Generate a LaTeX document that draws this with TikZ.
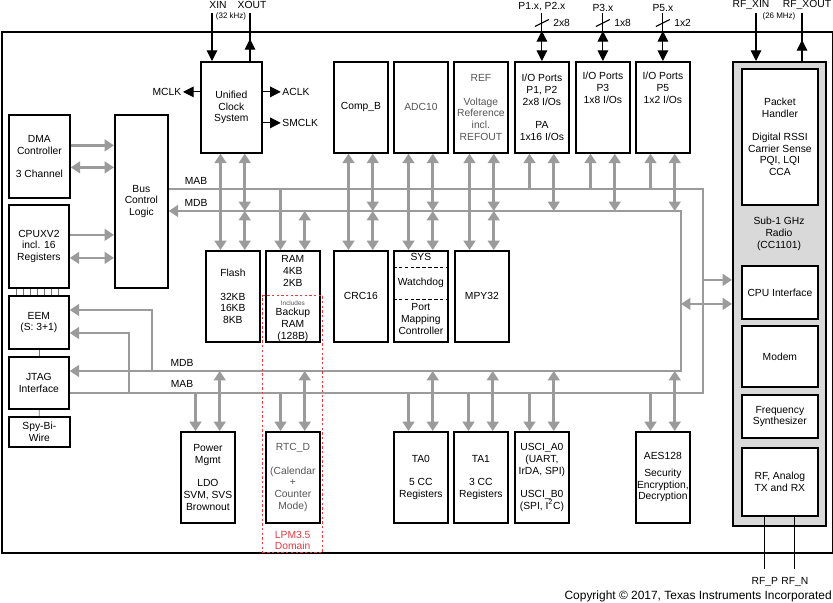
\documentclass[tikz,border=0pt]{standalone}
\usepackage{fontspec}
\setmainfont{Liberation Sans}
\usepackage{tikz}
\usetikzlibrary{arrows.meta}
\definecolor{busgray}{RGB}{155,155,155}
\definecolor{radiogray}{RGB}{217,217,217}
\definecolor{lpmred}{RGB}{232,56,64}
\definecolor{dimtext}{RGB}{85,85,85}
\tikzset{
    % Chip outline
    chipframe/.style={
        rectangle, draw=black, line width=1.5pt, fill=white,
        minimum width=249.3mm, minimum height=156.3mm,
        anchor=north west, inner sep=0pt
    },
    % Peripheral module box
    module/.style={
        rectangle, draw=black, line width=1.5pt, fill=white,
        minimum width=16.2mm, minimum height=27.3mm,
        anchor=north west, align=center, inner sep=0.5pt,
        font=\fontsize{8.8}{10}\selectfont
    },
    graytext/.style={text=dimtext},
    % Radio core
    radiobox/.style={
        rectangle, draw=black, line width=2pt, fill=radiogray,
        minimum width=27.9mm, minimum height=139.2mm,
        anchor=north west, inner sep=0pt
    },
    radioblk/.style={module, minimum width=22.8mm},
    % Free text
    sigtext/.style={align=center, inner sep=1pt, font=\fontsize{8.8}{10}\selectfont},
    freqtext/.style={inner sep=0.5pt, font=\fontsize{6.8}{8}\selectfont},
    tinytext/.style={inner sep=0.5pt, text=dimtext, font=\fontsize{5.5}{6}\selectfont},
    % Address and data buses
    bus/.style={draw=busgray, line width=2.3pt},
    busarrow/.style={bus, -{Triangle[width=10pt,length=8pt]}},
    busdbl/.style={bus, {Triangle[width=10pt,length=8pt]}-{Triangle[width=10pt,length=8pt]}},
    % Pin signals
    sigline/.style={draw=black, line width=0.9pt},
    sigarrow/.style={sigline, -{Triangle[width=9pt,length=9pt]}},
    portdbl/.style={sigline, {Triangle[width=9pt,length=9pt]}-{Triangle[width=9pt,length=9pt]}},
    pinline/.style={draw=black!55, line width=0.6pt},
    % LPM3.5 domain
    lpmdomain/.style={
        rectangle, draw=lpmred, line width=1.2pt, dash pattern=on 2pt off 2pt,
        minimum width=18mm, minimum height=77.1mm, anchor=north west, inner sep=0pt
    },
    lpmtext/.style={align=center, inner sep=1pt, text=lpmred, font=\fontsize{8.8}{10}\selectfont}
}

\begin{document}
\begin{tikzpicture}[x=0.3mm, y=-0.3mm]
\useasboundingbox (0,0) rectangle (833,603);

\node[chipframe] (chip) at (1,31) {};

% CPU side
\node[module, minimum width=18.3mm, minimum height=24.9mm] (dma) at (8,114) {DMA\\Controller\\[10pt]3 Channel};
\node[module, minimum width=18mm, minimum height=24.9mm] (cpu) at (8,204) {CPUXV2\\incl. 16\\Registers};
\node[module, minimum width=18mm, minimum height=15.9mm] (eem) at (8,295) {EEM\\(S: 3+1)};
\node[module, minimum width=18mm, minimum height=15.6mm] (jtag) at (8,356) {JTAG\\Interface};
\node[module, minimum width=18.3mm, minimum height=9mm] (sbw) at (8,416) {Spy-Bi-\\Wire};
\node[module, minimum width=15.9mm, minimum height=51.9mm] (busctl) at (114,114) {Bus\\Control\\Logic};

% top row
\node[module, minimum width=18.3mm] (ucs) at (200,61) {Unified\\Clock\\System};
\node[module] (comp) at (333,61) {Comp\_B};
\node[module, graytext] (adc) at (393,61) {ADC10};
\node[module, graytext] (ref) at (453,61) {REF\\[10pt]Voltage\\Reference\\incl.\\REFOUT};
\node[module] (p1) at (514,61) {I/O Ports\\P1, P2\\2x8 I/Os\\[10pt]PA\\1x16 I/Os};
\node[module] (p3) at (575,61) {};
\node[module] (p5) at (635,61) {};
\node[sigtext] (p3-text) at ([yshift=-8.1mm]p3.north) {I/O Ports\\P3\\1x8 I/Os};
\node[sigtext] (p5-text) at ([yshift=-8.1mm]p5.north) {I/O Ports\\P5\\1x2 I/Os};

% middle row
\node[module] (flash) at (205,250) {Flash\\[10pt]32KB\\16KB\\8KB};
\node[module] (ram) at (265,250) {};
\node[sigtext] (ram-size) at ([yshift=-6.3mm]ram.north) {RAM\\4KB\\2KB};
\node[tinytext] (ram-inc) at ([yshift=-15.9mm]ram.north) {Includes};
\node[sigtext] (ram-bak) at ([yshift=-22.5mm]ram.north) {Backup\\RAM\\(128B)};
\node[module] (crc) at (333,250) {CRC16};
\node[module] (sys) at (393,250) {};
\draw[densely dashed, thin] ([yshift=-5.1mm]sys.north west) -- ([yshift=-5.1mm]sys.north east);
\draw[densely dashed, thin] ([yshift=-14.7mm]sys.north west) -- ([yshift=-14.7mm]sys.north east);
\node[sigtext] (sys-t1) at ([yshift=-2.1mm]sys.north) {SYS};
\node[sigtext] (sys-t2) at ([yshift=-9.9mm]sys.north) {Watchdog};
\node[sigtext] (sys-t3) at ([yshift=-20.7mm]sys.north) {Port\\Mapping\\Controller};
\node[module] (mpy) at (454,250) {MPY32};

% bottom row
\node[module] (pwr) at (180,431) {Power\\Mgmt\\[10pt]LDO\\SVM, SVS\\Brownout};
\node[module, graytext] (rtc) at (265,431) {RTC\_D\\[10pt](Calendar\\+\\Counter\\Mode)};
\node[module] (ta0) at (393,431) {TA0\\[10pt]5 CC\\Registers};
\node[module] (ta1) at (453,431) {TA1\\[10pt]3 CC\\Registers};
\node[module] (usci) at (514,431) {USCI\_A0\\(UART,\\IrDA, SPI)\\[10pt]USCI\_B0\\(SPI, I\textsuperscript{2}C)};
\node[module] (aes) at (635,431) {AES128\\[4pt]Security\\Encryption,\\Decryption};

% radio core
\node[radiobox] (radio) at (732,61) {};
\node[radioblk, minimum height=40.8mm] (pkt) at (741,68) {Packet\\Handler\\[10pt]Digital RSSI\\Carrier Sense\\PQI, LQI\\CCA};
\node[sigtext] (radio-lbl) at (779,234) {Sub-1 GHz\\Radio\\(CC1101)};
\node[radioblk, minimum height=15.9mm] (cpuif) at (741,265) {CPU Interface};
\node[radioblk, minimum height=18.3mm] (modem) at (741,325) {Modem};
\node[radioblk, minimum height=12.9mm] (fsyn) at (741,394) {Frequency\\Synthesizer};
\node[radioblk, minimum height=20.4mm] (rfa) at (741,447) {RF, Analog\\TX and RX};

% buses
\coordinate (mab-ne) at (703,189);
\coordinate (mab-se) at (703,393);
\coordinate (mdb-ne) at (681,211);
\coordinate (mdb-se) at (681,371);
\draw[bus] (busctl.east |- mab-ne) -- (mab-ne) -- (mab-se) -- (jtag.east |- mab-se);
\draw[busdbl] (busctl.east |- mdb-ne) -- (mdb-ne) -- (mdb-se) -- (jtag.east |- mdb-se);
\node[sigtext] (mab-u) at (196,181) {MAB};
\node[sigtext] (mdb-u) at (196,203) {MDB};
\node[sigtext] (mdb-l) at (182,363) {MDB};
\node[sigtext] (mab-l) at (182,384) {MAB};

\draw[busarrow] ([yshift=3.3mm]dma.east) -- ([yshift=3.3mm]dma.east -| busctl.west);
\draw[busdbl] ([yshift=-3.3mm]dma.east) -- ([yshift=-3.3mm]dma.east -| busctl.west);
\draw[busarrow] ([yshift=3.45mm]cpu.east) -- ([yshift=3.45mm]cpu.east -| busctl.west);
\draw[busdbl] ([yshift=-3.45mm]cpu.east) -- ([yshift=-3.45mm]cpu.east -| busctl.west);

\coordinate (eem-d) at (152,310);
\coordinate (eem-a) at (129,333);
\draw[busarrow] (eem-d |- mdb-se) |- (eem.east |- eem-d);
\draw[busarrow] (eem-a |- mab-se) |- (eem.east |- eem-a);

% modules above and below the upper bus
\foreach \topmod/\midmod in {ucs/flash, comp/crc, adc/sys, ref/mpy} {
    \draw[busdbl] ([xshift=4.65mm]\midmod.north west |- \topmod.south) -- ([xshift=4.65mm]\midmod.north west);
    \draw[busdbl] ([xshift=-4.8mm]\midmod.north east |- \topmod.south) -- ([xshift=-4.8mm]\midmod.north east |- mdb-ne);
    \draw[busdbl] ([xshift=-4.8mm]\midmod.north east |- mdb-ne) -- ([xshift=-4.8mm]\midmod.north east);
}
\foreach \port in {p1,p3,p5} {
    \draw[busarrow] ([xshift=4.65mm]\port.south west |- mab-ne) -- ([xshift=4.65mm]\port.south west);
    \draw[busdbl] ([xshift=-4.8mm]\port.south east |- mdb-ne) -- ([xshift=-4.8mm]\port.south east);
}
\draw[busarrow] ([xshift=4.65mm]ram.north west |- mab-ne) -- ([xshift=4.65mm]ram.north west);
\draw[busdbl] ([xshift=-4.8mm]ram.north east |- mdb-ne) -- ([xshift=-4.8mm]ram.north east);

% modules below the lower bus
\foreach \botmod in {pwr,rtc,ta0,ta1,usci,aes} {
    \draw[busarrow] ([xshift=4.65mm]\botmod.north west |- mab-se) -- ([xshift=4.65mm]\botmod.north west);
    \draw[busdbl] ([xshift=-4.8mm]\botmod.north east |- mdb-se) -- ([xshift=-4.8mm]\botmod.north east);
}

% radio interface
\path ([yshift=3.75mm]cpuif.west) coordinate (rf-a) ([yshift=-3.45mm]cpuif.west) coordinate (rf-d);
\draw[busarrow] (mab-ne |- rf-a) -- (radio.west |- rf-a);
\draw[busdbl] (mdb-ne |- rf-d) -- (radio.west |- rf-d);

% debug pins
\foreach \i in {0,...,6} {
    \draw[pinline] ([xshift=2.4mm+2.1mm*\i]cpu.south west) -- ([xshift=2.4mm+2.1mm*\i]cpu.south west |- eem.north);
}
\draw[pinline] (eem) -- (jtag);
\draw[pinline] (jtag) -- (sbw);

% clock system
\coordinate (xin-pin) at (212,13);
\coordinate (xout-pin) at (250,13);
\node[sigtext] (xin) at (218,5) {XIN};
\node[sigtext] (xout) at (252,5) {XOUT};
\node[freqtext] (xin-freq) at (231,16) {(32 kHz)};
\draw[sigarrow] (xin-pin) -- (xin-pin |- ucs.north);
\draw[sigline] (xout-pin) -- (xout-pin |- ucs.north);
\draw[sigarrow] (xout-pin |- ucs.north) -- ++(0,-22);
\draw[sigarrow] ([yshift=4.65mm]ucs.west) -- ++(-17,0) node[sigtext, anchor=east] (mclk) {MCLK};
\draw[sigarrow] ([yshift=4.65mm]ucs.east) -- ++(18,0) node[sigtext, anchor=west] (aclk) {ACLK};
\draw[sigarrow] ([yshift=-4.65mm]ucs.east) -- ++(18,0) node[sigtext, anchor=west] (smclk) {SMCLK};

% radio crystal and antenna pins
\coordinate (rfxin-pin) at (756,13);
\coordinate (rfxout-pin) at (802,13);
\node[sigtext] (rfxin) at (751,5) {RF\_XIN};
\node[sigtext] (rfxout) at (807,5) {RF\_XOUT};
\node[freqtext] (rf-freq) at (779,16) {(26 MHz)};
\draw[sigarrow] (rfxin-pin) -- (rfxin-pin |- radio.north);
\draw[sigline] (rfxout-pin) -- (rfxout-pin |- radio.north);
\draw[sigarrow] (rfxout-pin |- radio.north) -- ++(0,-21);
\draw[sigline] ([xshift=-4.5mm]rfa.south) -- ++(0,52) node[sigtext, anchor=north, yshift=-2mm] (rfp) {RF\_P};
\draw[sigline] ([xshift=4.5mm]rfa.south) -- ++(0,52) node[sigtext, anchor=north, yshift=-2mm] (rfn) {RF\_N};

% I/O ports
\foreach \port/\bits/\pins in {p1/2x8/{P1.x, P2.x}, p3/1x8/P3.x, p5/1x2/P5.x} {
    \draw[portdbl] (\port.north) -- (\port.north |- chip.north);
    \draw[sigline] (\port.north |- chip.north) -- ++(0,-18) node[sigtext, anchor=south] (\port-pins) {\pins};
    \draw[sigline] ([shift={(-2.1mm,1.35mm)}]\port.north |- chip.north) -- ++(4.2mm,2.1mm);
    \node[sigtext, anchor=west] (\port-bits) at ([shift={(3mm,2.4mm)}]\port.north |- chip.north) {\bits};
}

% LPM3.5 domain
\node[lpmdomain] (lpm) at (262,295) {};
\node[lpmtext, anchor=south] (lpm-lbl) at ([yshift=0.6mm]lpm.south) {LPM3.5\\Domain};

\node[anchor=east, inner sep=0pt, font=\fontsize{10.2}{12}\selectfont] (copyright) at (832,596) {Copyright \textcopyright{} 2017, Texas Instruments Incorporated};

\end{tikzpicture}
\end{document}
